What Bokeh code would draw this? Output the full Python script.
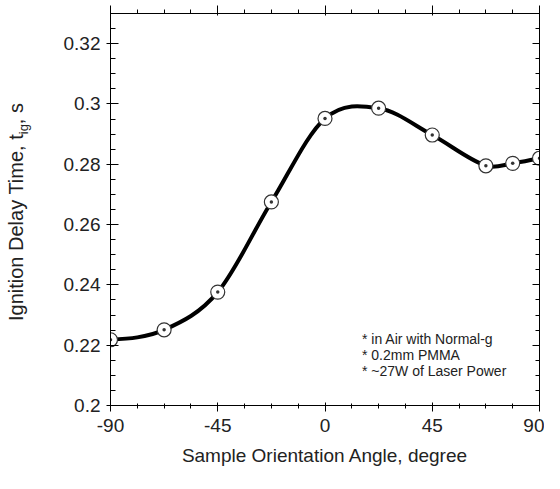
import numpy as np
from bokeh.plotting import figure
from bokeh.layouts import row
from bokeh.models import (LinearAxis, SingleIntervalTicker, CustomJSTickFormatter,
                          CustomLabelingPolicy, Label, Range1d, ColumnDataSource, Div)
from bokeh.embed import file_html
from bokeh.resources import INLINE

# ---- data ----
angle_deg = [-90, -67.5, -45, -22.5, 0, 22.5, 45, 67.5, 78.75, 90]
ignition_delay_s = [0.2218, 0.2251, 0.2376, 0.2675, 0.2952, 0.2986, 0.2897, 0.2795, 0.2803, 0.2820]

x_label = "Sample Orientation Angle, degree"
y_label_main = "Ignition Delay Time, t"
y_label_sub = "ig"
y_label_tail = ", s"
notes = ["* in Air with Normal-g", "* 0.2mm PMMA", "* ~27W of Laser Power"]

FONT = "Liberation Sans"
DIV_W = 38

p = figure(width=544 - DIV_W, height=473, output_backend="svg", toolbar_location=None,
           x_range=Range1d(-90, 90), y_range=Range1d(0.2, 0.33),
           x_axis_location=None, y_axis_location=None,
           min_border_left=110 - DIV_W, min_border_right=2, min_border_top=13, min_border_bottom=68)
p.background_fill_color = "white"
p.border_fill_color = "white"
p.outline_line_color = "black"
p.grid.visible = False

xt = SingleIntervalTicker(interval=45, num_minor_ticks=4)
yt = SingleIntervalTicker(interval=0.02, num_minor_ticks=4)
xfmt = CustomJSTickFormatter(code="return Math.round(tick).toString();")
yfmt = CustomJSTickFormatter(code="return parseFloat(tick.toFixed(4)).toString();")

hide_labels = CustomLabelingPolicy(code="""
try {
  for (const i of [...indices]) { indices.unset(i) }
} catch (e) {}
return indices
""")

def style(ax):
    ax.axis_line_color = "black"
    ax.major_tick_line_color = "black"
    ax.minor_tick_line_color = "black"
    ax.major_label_text_font = FONT
    ax.major_label_text_color = "#222222"
    ax.axis_label_text_font = FONT
    ax.axis_label_text_font_style = "normal"
    ax.axis_label_text_color = "#222222"

bottom = LinearAxis(ticker=xt, formatter=xfmt, axis_label=x_label)
style(bottom)
bottom.major_label_text_font_size = "19px"
bottom.axis_label_text_font_size = "19px"
bottom.major_tick_in = 3
bottom.major_tick_out = 6
bottom.minor_tick_in = 2
bottom.minor_tick_out = 3
bottom.major_label_standoff = 7
bottom.axis_label_standoff = 10
p.add_layout(bottom, "below")

left = LinearAxis(ticker=yt, formatter=yfmt)
style(left)
left.major_label_text_font_size = "19px"
left.major_tick_in = 8
left.major_tick_out = 4
left.minor_tick_in = 5
left.minor_tick_out = 0
left.major_label_standoff = 6
p.add_layout(left, "left")

top = LinearAxis(ticker=xt, major_label_policy=hide_labels)
style(top)
top.major_label_text_font_size = "1px"
top.major_label_standoff = 0
top.major_tick_in = 2
top.major_tick_out = 8
top.minor_tick_in = 0
top.minor_tick_out = 4
p.add_layout(top, "above")

right = LinearAxis(ticker=yt, major_label_policy=hide_labels)
style(right)
right.major_label_text_font_size = "1px"
right.major_label_standoff = 0
right.major_tick_in = 7
right.major_tick_out = 0
right.minor_tick_in = 4
right.minor_tick_out = 0
p.add_layout(right, "right")

# ---- smooth curve: cubic Hermite segments drawn as Bezier glyphs ----
xa = np.array(angle_deg, dtype=float)
ya = np.array(ignition_delay_s, dtype=float)
m = np.empty_like(ya)
m[1:-1] = (ya[2:] - ya[:-2]) / (xa[2:] - xa[:-2])
m[0] = 0.3 * (ya[1] - ya[0]) / (xa[1] - xa[0])
m[-1] = (ya[-1] - ya[-2]) / (xa[-1] - xa[-2])
h = xa[1:] - xa[:-1]
seg = ColumnDataSource(dict(
    x0=xa[:-1], y0=ya[:-1], x1=xa[1:], y1=ya[1:],
    cx0=xa[:-1] + h / 3, cy0=ya[:-1] + m[:-1] * h / 3,
    cx1=xa[1:] - h / 3, cy1=ya[1:] - m[1:] * h / 3,
))
p.bezier(x0="x0", y0="y0", x1="x1", y1="y1", cx0="cx0", cy0="cy0", cx1="cx1", cy1="cy1",
         source=seg, line_color="black", line_width=4)

p.scatter(angle_deg, ignition_delay_s, marker="circle_dot", size=14,
          fill_color="white", line_color="#333333", line_width=1.2)

# ---- notes (anchored in data space near the lower right) ----
note_x = 15.5
note_y = [0.2222, 0.2168, 0.2113]
for t, yy in zip(notes, note_y):
    p.add_layout(Label(x=note_x, y=yy, text=t,
                       text_font=FONT, text_font_size="14px", text_color="#222222",
                       text_align="left", text_baseline="alphabetic"))

# ---- rotated y-axis title with a real subscript ----
ylab_html = (
    '<div style="width:300px;height:20px;line-height:20px;margin-left:-134px;margin-top:202px;'
    'transform:rotate(-90deg);text-align:center;white-space:nowrap;'
    "font-family:'Liberation Sans',Arial,sans-serif;font-size:20px;color:#222222;\">"
    f'{y_label_main}<sub style="font-size:13px;line-height:0;vertical-align:-5px;">{y_label_sub}</sub>{y_label_tail}'
    '</div>'
)
ydiv = Div(text=ylab_html, width=DIV_W, height=473, margin=(0, 0, 0, 0),
           styles={"overflow": "visible"})

layout = row(ydiv, p, spacing=0)
open("out.html", "w").write(file_html(layout, INLINE))
